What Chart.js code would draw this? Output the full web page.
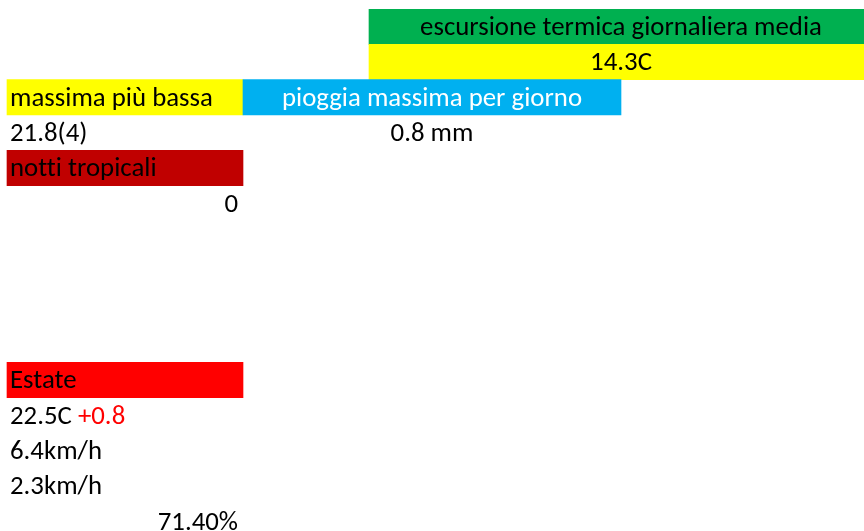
<!DOCTYPE html>
<html>
<head>
<meta charset="utf-8">
<script src="https://cdn.jsdelivr.net/npm/chart.js@4/dist/chart.umd.min.js"></script>
<style>
  html, body { margin: 0; padding: 0; background: #fff; overflow: hidden; }
  #wrap { position: relative; width: 864px; height: 539px; }
</style>
</head>
<body>
<div id="wrap"><canvas id="sheetChart"></canvas></div>
<script>
// sheet rows shown (one category per row)
var rowLabels = ['1','2','3','4','5','6','7','8','9','10','11','12','13','14','15'];

// coloured header cells
var fillTexts  = ['escursione termica giornaliera media', '14.3C', 'massima più bassa', 'pioggia massima per giorno', 'notti tropicali', 'Estate'];
var fillColors = ['#00B050', '#FFFF00', '#FFFF00', '#00B0F0', '#C00000', '#FF0000'];
var fillInk    = ['#000000', '#000000', '#000000', '#FFFFFF', '#000000', '#000000'];

// plain value cells
var valueTexts = ['21.8(4)', '0.8 mm', '0', '22.5C', '6.4km/h', '2.3km/h', '71.40%'];
var deltaTexts = ['', '', '', '+0.8', '', '', ''];

// sheet layout: column edges and where each cell sits (row, first col, last col, align)
var colEdges = [7, 243, 369, 495, 621, 747, 873];
var fillCells = [
    [1, 2, 5, 'center'], [2, 2, 5, 'center'], [3, 0, 0, 'left'],
    [3, 1, 3, 'center'], [5, 0, 0, 'left'], [11, 0, 0, 'left']
];
var valueCells = [
    [4, 0, 0, 'left'], [4, 1, 3, 'center'], [6, 0, 0, 'right'],
    [12, 0, 0, 'left'], [13, 0, 0, 'left'], [14, 0, 0, 'left'], [15, 0, 0, 'right']
];

var FONT = '26.8px Carlito, Lato, sans-serif';

var cellText = {
    id: 'cellText',
    afterDatasetsDraw: function(chart) {
        var ctx = chart.ctx, xs = chart.scales.x, ys = chart.scales.y;
        var rowH = ys.getPixelForValue(1) - ys.getPixelForValue(0);
        ctx.save();
        ctx.font = FONT;
        ctx.letterSpacing = '0.01px'; // no "tt" ligature
        ctx.textBaseline = 'alphabetic';

        function put(cell, text, color, extra) {
            var left = xs.getPixelForValue(colEdges[cell[1]]);
            var right = xs.getPixelForValue(colEdges[cell[2] + 1]);
            var base = ys.getPixelForValue(cell[0] - 1) + rowH / 2 - 9.5;
            var full = text + (extra ? ' ' + extra : '');
            var w = ctx.measureText(full).width;
            var x;
            if (cell[3] === 'left') x = left + 3;
            else if (cell[3] === 'right') x = right - 5 - w;
            else x = (left + right) / 2 - w / 2;
            ctx.fillStyle = color;
            ctx.textAlign = 'left';
            ctx.fillText(text, x, base);
            if (extra) {
                ctx.fillStyle = '#FF0000';
                ctx.fillText(extra, x + ctx.measureText(text + ' ').width, base);
            }
        }

        fillCells.forEach(function(c, i) { put(c, fillTexts[i], fillInk[i]); });
        valueCells.forEach(function(c, i) { put(c, valueTexts[i], '#000000', deltaTexts[i]); });
        ctx.restore();
    }
};

document.addEventListener("DOMContentLoaded", function() {
    var ctx = document.getElementById('sheetChart').getContext('2d');
    var sheetChart = new Chart(ctx, {
        type: 'bar',
        data: {
            labels: rowLabels,
            datasets: [{
                label: 'celle',
                data: fillCells.map(function(c) {
                    return { y: rowLabels[c[0] - 1], x: [colEdges[c[1]], colEdges[c[2] + 1]] };
                }),
                backgroundColor: fillColors,
                borderWidth: 0,
                barPercentage: 1,
                categoryPercentage: 1,
                grouped: false
            }]
        },
        options: {
            indexAxis: 'y',
            responsive: true,
            maintainAspectRatio: false,
            animation: false,
            layout: { padding: { top: 9, left: 0, right: 0, bottom: 0 } },
            scales: {
                x: { type: 'linear', min: 0, max: 864, display: false },
                y: { type: 'category', display: false }
            },
            plugins: {
                legend: { display: false },
                tooltip: { enabled: false }
            }
        },
        plugins: [cellText]
    });
});
</script>
</body>
</html>
